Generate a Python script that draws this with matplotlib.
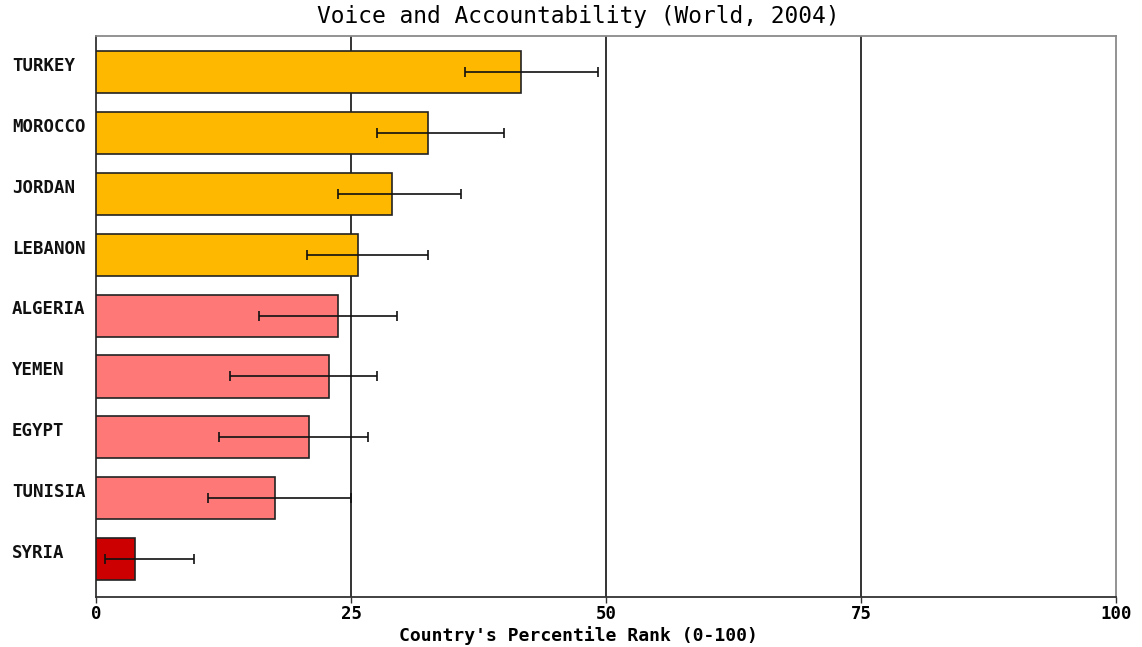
import matplotlib.pyplot as plt

countries = ["TURKEY", "MOROCCO", "JORDAN", "LEBANON", "ALGERIA",
             "YEMEN", "EGYPT", "TUNISIA", "SYRIA"]
rank = [41.7, 32.5, 29.0, 25.7, 23.7, 22.8, 20.9, 17.5, 3.8]
lower = [36.2, 27.5, 23.7, 20.7, 16.0, 13.1, 12.1, 11.0, 0.9]
upper = [49.2, 40.0, 35.8, 32.5, 29.5, 27.5, 26.7, 25.0, 9.6]
colors = ["#FFB800"] * 4 + ["#FF7878"] * 4 + ["#CC0000"]

plt.rcParams['font.family'] = ['DejaVu Sans Mono']

fig = plt.figure(figsize=(11.42, 6.47), dpi=100)
ax = fig.add_axes([96 / 1142, 1 - 597 / 647, 1020 / 1142, 561 / 647])

y = list(range(len(countries)))
ax.barh(y, rank, height=0.69, color=colors, edgecolor="#222222",
        linewidth=1.2, zorder=3)

# error bar from lower to upper bound
mid = [(lo + hi) / 2 for lo, hi in zip(lower, upper)]
half = [(hi - lo) / 2 for lo, hi in zip(lower, upper)]
ax.errorbar(mid, y, xerr=half, fmt="none", ecolor="#111111",
            elinewidth=1.2, capsize=3.6, capthick=1.2, zorder=4)

ax.set_xlim(0, 100)
ax.set_ylim(len(countries) - 0.38, -0.59)
ax.set_xticks([0, 25, 50, 75, 100])
ax.set_xticklabels(["0", "25", "50", "75", "100"], fontsize=12.5,
                   fontweight="bold")
ax.tick_params(axis="x", length=4, width=1, color="#333333", pad=2)

ax.set_yticks([])
for i, name in enumerate(countries):
    ax.text(-0.0825, i - 0.1, name, transform=ax.get_yaxis_transform(),
            ha="left", va="center", fontsize=12.5, fontweight="bold",
            color="#111111")

for xv in [25, 50, 75]:
    ax.axvline(xv, color="#111111", linewidth=1.2, zorder=1)

for side in ["left", "bottom"]:
    ax.spines[side].set_color("#333333")
    ax.spines[side].set_linewidth(1.3)
for side in ["top", "right"]:
    ax.spines[side].set_color("#8a8a8a")
    ax.spines[side].set_linewidth(1.3)

fig.text(578 / 1142, 1 - 636 / 647, "Country's Percentile Rank (0-100)",
         ha="center", va="center", fontsize=13, fontweight="bold")
fig.text(578 / 1142, 1 - 17 / 647, "Voice and Accountability (World, 2004)",
         ha="center", va="center", fontsize=16.5)

fig.savefig("out.png", dpi=100)
